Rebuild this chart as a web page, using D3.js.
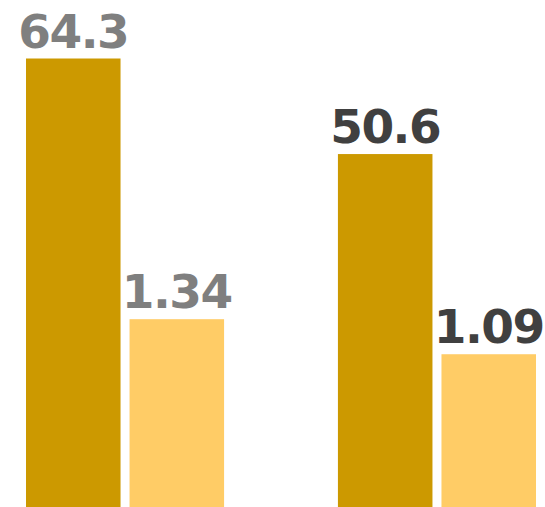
<!DOCTYPE html>
<html>
<head>
<meta charset="utf-8">
<script src="https://cdn.jsdelivr.net/npm/d3@7"></script>
<style>
  html, body { margin: 0; padding: 0; background: #fff; }
  svg { display: block; }
</style>
</head>
<body>
<script>
const groups = ["A", "B"];
const seriesDark = [64.3, 50.6];
const seriesLight = [1.34, 1.09];
const labelColors = ["#7f7f7f", "#404040"];

const W = 545, H = 507;
const svg = d3.select("body").append("svg").attr("width", W).attr("height", H);

const x0 = d3.scaleBand().domain(groups).range([26, 536]).paddingInner(0.365).paddingOuter(0);
const x1 = d3.scaleBand().domain(["dark", "light"]).range([0, x0.bandwidth()]).paddingInner(0.087).paddingOuter(0);
const yDark = d3.scaleLinear().domain([0, 64.3]).range([H, 58.5]);
const yLight = d3.scaleLinear().domain([0, 3.2]).range([H, 58.5]);

const data = [];
groups.forEach((g, i) => {
  data.push({ g, key: "dark", v: seriesDark[i], y: yDark, fill: "#cc9900", lc: labelColors[i], txt: String(seriesDark[i]) });
  data.push({ g, key: "light", v: seriesLight[i], y: yLight, fill: "#ffcc66", lc: labelColors[i], txt: String(seriesLight[i]) });
});

svg.selectAll("rect.bar").data(data).enter().append("rect")
  .attr("class", "bar")
  .attr("x", d => x0(d.g) + x1(d.key))
  .attr("width", x1.bandwidth())
  .attr("y", d => d.y(d.v))
  .attr("height", d => H - d.y(d.v))
  .attr("fill", d => d.fill);

svg.selectAll("text.lbl").data(data).enter().append("text")
  .attr("class", "lbl")
  .attr("x", d => x0(d.g) + x1(d.key) + x1.bandwidth() / 2)
  .attr("y", d => d.y(d.v) - 11)
  .attr("text-anchor", "middle")
  .attr("font-family", "DejaVu Sans, Verdana, sans-serif")
  .attr("font-weight", "bold")
  .attr("font-size", 47)
  .attr("letter-spacing", "-1.5px")
  .attr("fill", d => d.lc)
  .text(d => d.txt);
</script>
</body>
</html>
